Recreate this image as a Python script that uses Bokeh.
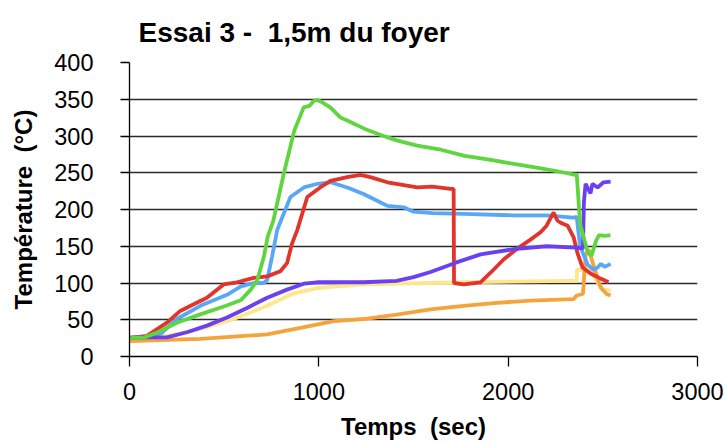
from bokeh.plotting import figure
from bokeh.models import FixedTicker, Range1d
from bokeh.embed import file_html
from bokeh.resources import INLINE

# ---- data (time in s, temperature in °C) ----
green_t = [0, 80, 150, 250, 370, 510, 590, 640, 675, 710, 730, 760, 815, 870, 920, 950, 975, 990, 1010, 1060, 1115, 1150, 1240, 1320, 1410, 1520, 1650, 1770, 1900, 2030, 2150, 2240, 2300, 2355, 2362, 2380, 2420, 2440, 2465, 2480, 2510, 2540]
green_y = [25, 26, 33, 46, 57, 69, 77, 91, 104, 136, 163, 185, 249, 307, 339, 341, 348, 349, 347, 339, 325, 321, 310, 302, 294, 287, 281, 273, 268, 262, 257, 253, 250, 247, 248, 180, 142, 137, 158, 165, 164, 165]

blue_t = [0, 100, 170, 250, 374, 515, 586, 656, 709, 727, 753, 780, 850, 921, 993, 1061, 1150, 1236, 1300, 1362, 1448, 1500, 1600, 1764, 2029, 2200, 2345, 2362, 2380, 2420, 2450, 2472, 2490, 2510, 2541]
blue_y = [25, 26, 32, 51, 69, 84, 95, 100, 100, 104, 136, 172, 217, 230, 235, 237, 230, 221, 213, 205, 203, 197, 195, 194, 192, 192, 189, 190, 150, 125, 118, 121, 126, 122, 126]

red_t = [0, 92, 198, 268, 339, 409, 497, 568, 656, 727, 797, 832, 859, 886, 939, 1007, 1061, 1150, 1220, 1272, 1362, 1520, 1600, 1695, 1712, 1714, 1765, 1854, 1907, 1976, 2044, 2118, 2171, 2203, 2240, 2260, 2277, 2314, 2346, 2367, 2393, 2435, 2488, 2530]
red_y = [25, 28, 46, 62, 71, 80, 98, 101, 107, 109, 116, 127, 154, 172, 217, 230, 239, 244, 247, 244, 237, 230, 231, 228, 228, 100, 98, 101, 114, 132, 146, 159, 169, 178, 196, 185, 182, 178, 162, 140, 121, 113, 106, 101]

purple_t = [0, 198, 303, 409, 515, 621, 727, 832, 921, 991, 1080, 1236, 1411, 1500, 1590, 1727, 1854, 2029, 2203, 2361, 2395, 2400, 2409, 2435, 2445, 2472, 2504, 2541]
purple_y = [26, 26, 33, 42, 53, 66, 80, 91, 99, 101, 101, 101, 103, 108, 115, 128, 139, 146, 150, 148, 147, 210, 235, 222, 235, 230, 237, 238]

yellow_t = [0, 198, 374, 550, 727, 868, 991, 1080, 1236, 1765, 2345, 2362, 2363, 2435, 2460, 2504, 2541]
yellow_y = [24, 28, 37, 51, 69, 86, 93, 95, 98, 101, 103, 103, 118, 118, 105, 91, 90]

orange_t = [0, 374, 727, 903, 1080, 1236, 1411, 1590, 1765, 1939, 2118, 2345, 2362, 2395, 2409, 2425, 2451, 2488, 2520, 2541]
orange_y = [21, 24, 30, 39, 48, 51, 57, 64, 69, 73, 76, 78, 83, 85, 137, 146, 124, 94, 85, 83]

x_ticks = [0, 1000, 2000, 3000]
y_ticks = [0, 50, 100, 150, 200, 250, 300, 350, 400]

FONT = "Liberation Sans"
NB = "\u00a0"

p = figure(width=726, height=444, output_backend="svg", toolbar_location=None,
           x_range=Range1d(0, 3000), y_range=Range1d(0, 400),
           min_border_left=129, min_border_right=29, min_border_top=62, min_border_bottom=88,
           title="Essai 3 -" + NB + " 1,5m du foyer")

p.title.text_font = FONT
p.title.text_font_size = "28px"
p.title.text_font_style = "bold"
p.title.text_color = "#000000"
p.title.offset = 9
p.title.standoff = 29

p.outline_line_color = None
p.background_fill_color = "white"
p.border_fill_color = "white"

p.xgrid.grid_line_color = None
p.ygrid.grid_line_color = "#2a2a2a"
p.ygrid.grid_line_width = 1.3
p.ygrid.ticker = FixedTicker(ticks=y_ticks)

p.xaxis.ticker = FixedTicker(ticks=x_ticks)
p.yaxis.ticker = FixedTicker(ticks=y_ticks)
for ax in (p.xaxis[0], p.yaxis[0]):
    ax.axis_line_color = "#000000"
    ax.axis_line_width = 1.3
    ax.major_tick_line_color = "#000000"
    ax.major_tick_line_width = 1.3
    ax.major_tick_in = 0
    ax.minor_tick_line_color = None
    ax.major_label_text_font = FONT
    ax.major_label_text_font_size = "23.5px"
    ax.major_label_text_color = "#000000"
    ax.axis_label_text_font = FONT
    ax.axis_label_text_font_size = "24px"
    ax.axis_label_text_font_style = "bold"
    ax.axis_label_text_color = "#000000"

p.xaxis.major_tick_out = 10
p.yaxis.major_tick_out = 9
p.xaxis.major_label_standoff = 16
p.yaxis.major_label_standoff = 27
p.xaxis.axis_label = "Temps" + NB + " (sec)"
p.yaxis.axis_label = "Température" + NB + " (°C)"
p.xaxis.axis_label_standoff = 10
p.yaxis.axis_label_standoff = 14

LW = 3.8
p.line(yellow_t, yellow_y, line_color="#ffe68a", line_width=LW)
p.line(orange_t, orange_y, line_color="#f5a43c", line_width=LW)
p.line(blue_t, blue_y, line_color="#5aa8f5", line_width=LW)
p.line(red_t, red_y, line_color="#e0342c", line_width=LW)
p.line(purple_t, purple_y, line_color="#6a40f2", line_width=LW)
p.line(green_t, green_y, line_color="#5fd640", line_width=LW)

open("out.html", "w").write(file_html(p, INLINE))
